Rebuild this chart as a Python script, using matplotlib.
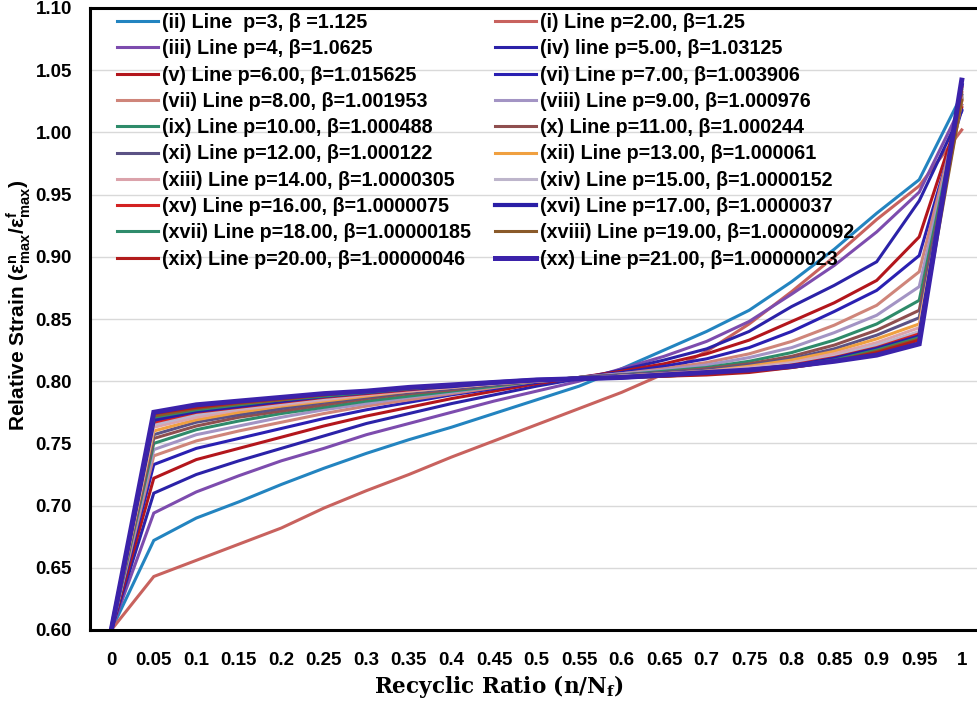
import numpy as np
import matplotlib.pyplot as plt

plt.rcParams['mathtext.default'] = 'regular'

# recyclic ratio categories
ratio_labels = ['0', '0.05', '0.1', '0.15', '0.2', '0.25', '0.3', '0.35', '0.4', '0.45', '0.5',
                '0.55', '0.6', '0.65', '0.7', '0.75', '0.8', '0.85', '0.9', '0.95', '1']

# series, in the order they sit in the legend (row by row)
line_ii = [0.600, 0.672, 0.690, 0.703, 0.717, 0.730, 0.742, 0.753, 0.763, 0.774, 0.785,
           0.796, 0.810, 0.825, 0.840, 0.857, 0.880, 0.906, 0.935, 0.962, 1.030]
line_i = [0.600, 0.643, 0.656, 0.669, 0.682, 0.698, 0.712, 0.725, 0.739, 0.752, 0.765,
          0.778, 0.791, 0.806, 0.824, 0.846, 0.872, 0.900, 0.930, 0.957, 1.002]
line_iii = [0.600, 0.694, 0.711, 0.724, 0.736, 0.746, 0.757, 0.766, 0.775, 0.784, 0.792,
            0.800, 0.810, 0.820, 0.832, 0.848, 0.870, 0.893, 0.920, 0.952, 1.022]
line_iv = [0.600, 0.710, 0.725, 0.736, 0.746, 0.756, 0.766, 0.774, 0.782, 0.789, 0.796,
           0.802, 0.809, 0.817, 0.826, 0.840, 0.860, 0.877, 0.896, 0.945, 1.017]
line_v = [0.600, 0.722, 0.737, 0.746, 0.755, 0.764, 0.772, 0.779, 0.786, 0.792, 0.798,
          0.803, 0.808, 0.814, 0.822, 0.833, 0.848, 0.863, 0.881, 0.916, 1.020]
line_vi = [0.600, 0.733, 0.746, 0.754, 0.762, 0.770, 0.777, 0.783, 0.789, 0.794, 0.799,
           0.803, 0.807, 0.812, 0.818, 0.827, 0.840, 0.856, 0.873, 0.901, 1.018]
line_vii = [0.600, 0.740, 0.752, 0.760, 0.767, 0.774, 0.780, 0.785, 0.790, 0.795, 0.800,
            0.803, 0.806, 0.810, 0.815, 0.822, 0.832, 0.845, 0.861, 0.888, 1.025]
line_viii = [0.600, 0.745, 0.757, 0.764, 0.771, 0.777, 0.782, 0.787, 0.791, 0.796, 0.800,
             0.803, 0.806, 0.809, 0.813, 0.819, 0.827, 0.839, 0.853, 0.876, 1.026]
line_ix = [0.600, 0.750, 0.761, 0.768, 0.774, 0.779, 0.784, 0.788, 0.792, 0.796, 0.800,
           0.803, 0.805, 0.808, 0.811, 0.816, 0.823, 0.833, 0.846, 0.865, 1.028]
line_x = [0.600, 0.754, 0.764, 0.771, 0.776, 0.781, 0.786, 0.790, 0.793, 0.797, 0.800,
          0.803, 0.805, 0.807, 0.810, 0.814, 0.820, 0.829, 0.841, 0.857, 1.027]
line_xi = [0.600, 0.757, 0.767, 0.773, 0.778, 0.783, 0.787, 0.791, 0.794, 0.797, 0.800,
           0.803, 0.805, 0.807, 0.809, 0.813, 0.818, 0.826, 0.837, 0.851, 1.030]
line_xii = [0.600, 0.760, 0.769, 0.775, 0.780, 0.784, 0.788, 0.792, 0.795, 0.798, 0.800,
            0.802, 0.804, 0.806, 0.808, 0.812, 0.817, 0.824, 0.834, 0.846, 1.025]
line_xiii = [0.600, 0.763, 0.771, 0.777, 0.781, 0.785, 0.789, 0.792, 0.795, 0.798, 0.800,
             0.802, 0.804, 0.806, 0.808, 0.811, 0.815, 0.822, 0.831, 0.843, 1.030]
line_xiv = [0.600, 0.765, 0.773, 0.778, 0.782, 0.786, 0.790, 0.793, 0.796, 0.798, 0.801,
            0.802, 0.804, 0.805, 0.807, 0.810, 0.814, 0.820, 0.829, 0.840, 1.028]
line_xv = [0.600, 0.767, 0.775, 0.779, 0.783, 0.787, 0.790, 0.793, 0.796, 0.799, 0.801,
           0.802, 0.803, 0.805, 0.807, 0.809, 0.813, 0.819, 0.827, 0.838, 1.032]
line_xvi = [0.600, 0.769, 0.776, 0.780, 0.784, 0.788, 0.791, 0.794, 0.796, 0.799, 0.801,
            0.802, 0.803, 0.805, 0.806, 0.809, 0.812, 0.818, 0.826, 0.836, 1.038]
line_xvii = [0.600, 0.771, 0.777, 0.781, 0.785, 0.788, 0.791, 0.794, 0.797, 0.799, 0.801,
             0.802, 0.803, 0.804, 0.806, 0.808, 0.812, 0.817, 0.825, 0.835, 1.034]
line_xviii = [0.600, 0.772, 0.778, 0.782, 0.785, 0.789, 0.792, 0.794, 0.797, 0.799, 0.801,
              0.802, 0.803, 0.804, 0.806, 0.808, 0.811, 0.816, 0.824, 0.834, 1.026]
line_xix = [0.600, 0.774, 0.779, 0.783, 0.786, 0.789, 0.792, 0.795, 0.797, 0.799, 0.801,
            0.802, 0.803, 0.804, 0.805, 0.807, 0.811, 0.816, 0.823, 0.833, 1.036]
line_xx = [0.600, 0.775, 0.781, 0.784, 0.787, 0.790, 0.792, 0.795, 0.797, 0.799, 0.801,
           0.802, 0.803, 0.805, 0.807, 0.809, 0.812, 0.816, 0.821, 0.830, 1.042]

series = [line_ii, line_i, line_iii, line_iv, line_v, line_vi, line_vii, line_viii,
          line_ix, line_x, line_xi, line_xii, line_xiii, line_xiv, line_xv, line_xvi,
          line_xvii, line_xviii, line_xix, line_xx]

labels = ['(ii) Line  p=3, β =1.125', '(i) Line p=2.00, β=1.25',
          '(iii) Line p=4, β=1.0625', '(iv) line p=5.00, β=1.03125',
          '(v) Line p=6.00, β=1.015625', '(vi) Line p=7.00, β=1.003906',
          '(vii) Line p=8.00, β=1.001953', '(viii) Line p=9.00, β=1.000976',
          '(ix) Line p=10.00, β=1.000488', '(x) Line p=11.00, β=1.000244',
          '(xi) Line p=12.00, β=1.000122', '(xii) Line p=13.00, β=1.000061',
          '(xiii) Line p=14.00, β=1.0000305', '(xiv) Line p=15.00, β=1.0000152',
          '(xv) Line p=16.00, β=1.0000075', '(xvi) Line p=17.00, β=1.0000037',
          '(xvii) Line p=18.00, β=1.00000185', '(xviii) Line p=19.00, β=1.00000092',
          '(xix) Line p=20.00, β=1.00000046', '(xx) Line p=21.00, β=1.00000023']

colors = ['#2384c0', '#c8625e', '#7d4cae', '#2b22a8', '#b3161c', '#2a20b2',
          '#cf857a', '#a394c4', '#2e8b6a', '#8f4f4f', '#5b5285', '#f0a040',
          '#dba3ab', '#bdb5cb', '#d32222', '#2a1ea6', '#2f8c6c', '#8a5a2a',
          '#b21c1c', '#3b22aa']
widths = [2.2] * 20
widths[15] = 3.0
widths[19] = 3.6

x = np.arange(len(ratio_labels))

fig = plt.figure(figsize=(9.78, 7.02), dpi=100)
ax = fig.add_axes([90 / 978, 1 - 630 / 702, 893 / 978, 622 / 702])

handles = []
for vals, lab, c, w in zip(series, labels, colors, widths):
    h, = ax.plot(x, vals, color=c, lw=w, label=lab, solid_joinstyle='miter')
    handles.append(h)

ax.set_xlim(-0.5, 20.5)
ax.set_ylim(0.6, 1.1)
yt = np.arange(0.6, 1.101, 0.05)
ax.set_yticks(yt)
ax.set_yticklabels(['%.2f' % v for v in yt])
ax.set_xticks(x)
ax.set_xticklabels(ratio_labels)
ax.grid(axis='y', color='#d9d9d9', lw=1)
ax.set_axisbelow(True)
ax.tick_params(length=0, labelsize=13.5)
ax.tick_params(axis='x', pad=16)
ax.tick_params(axis='y', pad=13)
for t in ax.get_xticklabels() + ax.get_yticklabels():
    t.set_fontfamily(['Liberation Sans Narrow', 'Liberation Sans'])
    t.set_fontweight('bold')

for s in ['left', 'bottom', 'top']:
    ax.spines[s].set_linewidth(2.2)
    ax.spines[s].set_color('black')
ax.spines['right'].set_visible(False)

ax.set_ylabel('Relative Strain (ε$^{n}_{max}$/ε$^{f}_{max}$)', fontsize=15,
              fontweight='bold', family=['Liberation Sans Narrow', 'Liberation Sans'],
              va='center')
ax.yaxis.set_label_coords(-71 / 893, (630 - 305) / 622)
ax.set_xlabel('Recyclic Ratio (n/N$_f$)', fontsize=15.5, fontweight='bold',
              family='DejaVu Serif')
ax.xaxis.set_label_coords((499 - 90) / 893, -(687 - 630) / 622)
ax.xaxis.label.set_va('center')

order = list(range(0, 20, 2)) + list(range(1, 20, 2))
ax.legend([handles[k] for k in order], [labels[k] for k in order], ncol=2,
          loc='upper left', bbox_to_anchor=(117 / 978, 1 - 13 / 702),
          bbox_transform=fig.transFigure, frameon=False,
          prop={'family': 'Liberation Sans', 'weight': 'bold', 'size': 14.2},
          handlelength=2.1, handletextpad=0.2, labelspacing=0.37,
          columnspacing=1.2, borderpad=0, borderaxespad=0)

fig.savefig('out.png', dpi=100)
